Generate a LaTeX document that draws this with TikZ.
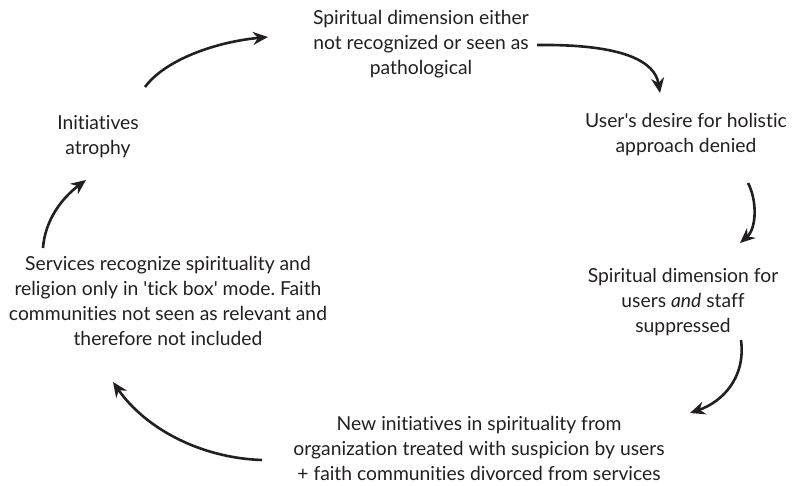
\documentclass[tikz,border=0pt]{standalone}
\usepackage{fontspec}
\setmainfont{Lato}[Ligatures={NoCommon}]
\usetikzlibrary{arrows.meta}
\definecolor{ink}{HTML}{231F20}
\frenchspacing
\begin{document}
\begin{tikzpicture}[x=1pt,y=-1pt,
  lbl/.style={align=center,text=ink,font=\fontsize{19.3}{25}\selectfont,inner sep=0pt},
  arr/.style={draw=ink,line width=2.6pt,-{Stealth[length=15pt,width=13pt]}}]
\useasboundingbox (0,0) rectangle (797,485);
\node[lbl] (n1) at (421,44) {Spiritual dimension either\\not recognized or seen as\\pathological};
\node[lbl] (n2) at (686,135) {User\textquotesingle s desire for holistic\\approach denied};
\node[lbl] (n3) at (683,302) {Spiritual dimension for\\users \emph{and} staff\\suppressed};
\node[lbl] (n4) at (479,448) {New initiatives in spirituality from\\organization treated with suspicion by users\\+ faith communities divorced from services};
\node[lbl] (n5) at (168,301) {Services recognize spirituality and\\religion only in \textquotesingle tick box\textquotesingle\ mode. Faith\\communities not seen as relevant and\\therefore not included};
\node[lbl] (n6) at (98,137) {Initiatives\\atrophy};
\coordinate (a1s) at (145,87);  \coordinate (a1e) at (268,37);
\coordinate (a2s) at (537,45);  \coordinate (a2e) at (660,93);
\coordinate (a3s) at (748,183); \coordinate (a3e) at (740,243);
\coordinate (a4s) at (741,340); \coordinate (a4e) at (690,413);
\coordinate (a5s) at (262,460); \coordinate (a5e) at (113,382);
\coordinate (a6s) at (43,248);  \coordinate (a6e) at (86,180);
\draw[arr] (a1s) .. controls (165,60) and (215,42) .. (a1e);
\draw[arr] (a2s) .. controls (625,44) and (655,62) .. (a2e);
\draw[arr] (a3s) .. controls (757,200) and (757,228) .. (a3e);
\draw[arr] (a4s) .. controls (746,378) and (722,402) .. (a4e);
\draw[arr] (a5s) .. controls (200,458) and (145,428) .. (a5e);
\draw[arr] (a6s) .. controls (45,220) and (62,198) .. (a6e);
\end{tikzpicture}
\end{document}
